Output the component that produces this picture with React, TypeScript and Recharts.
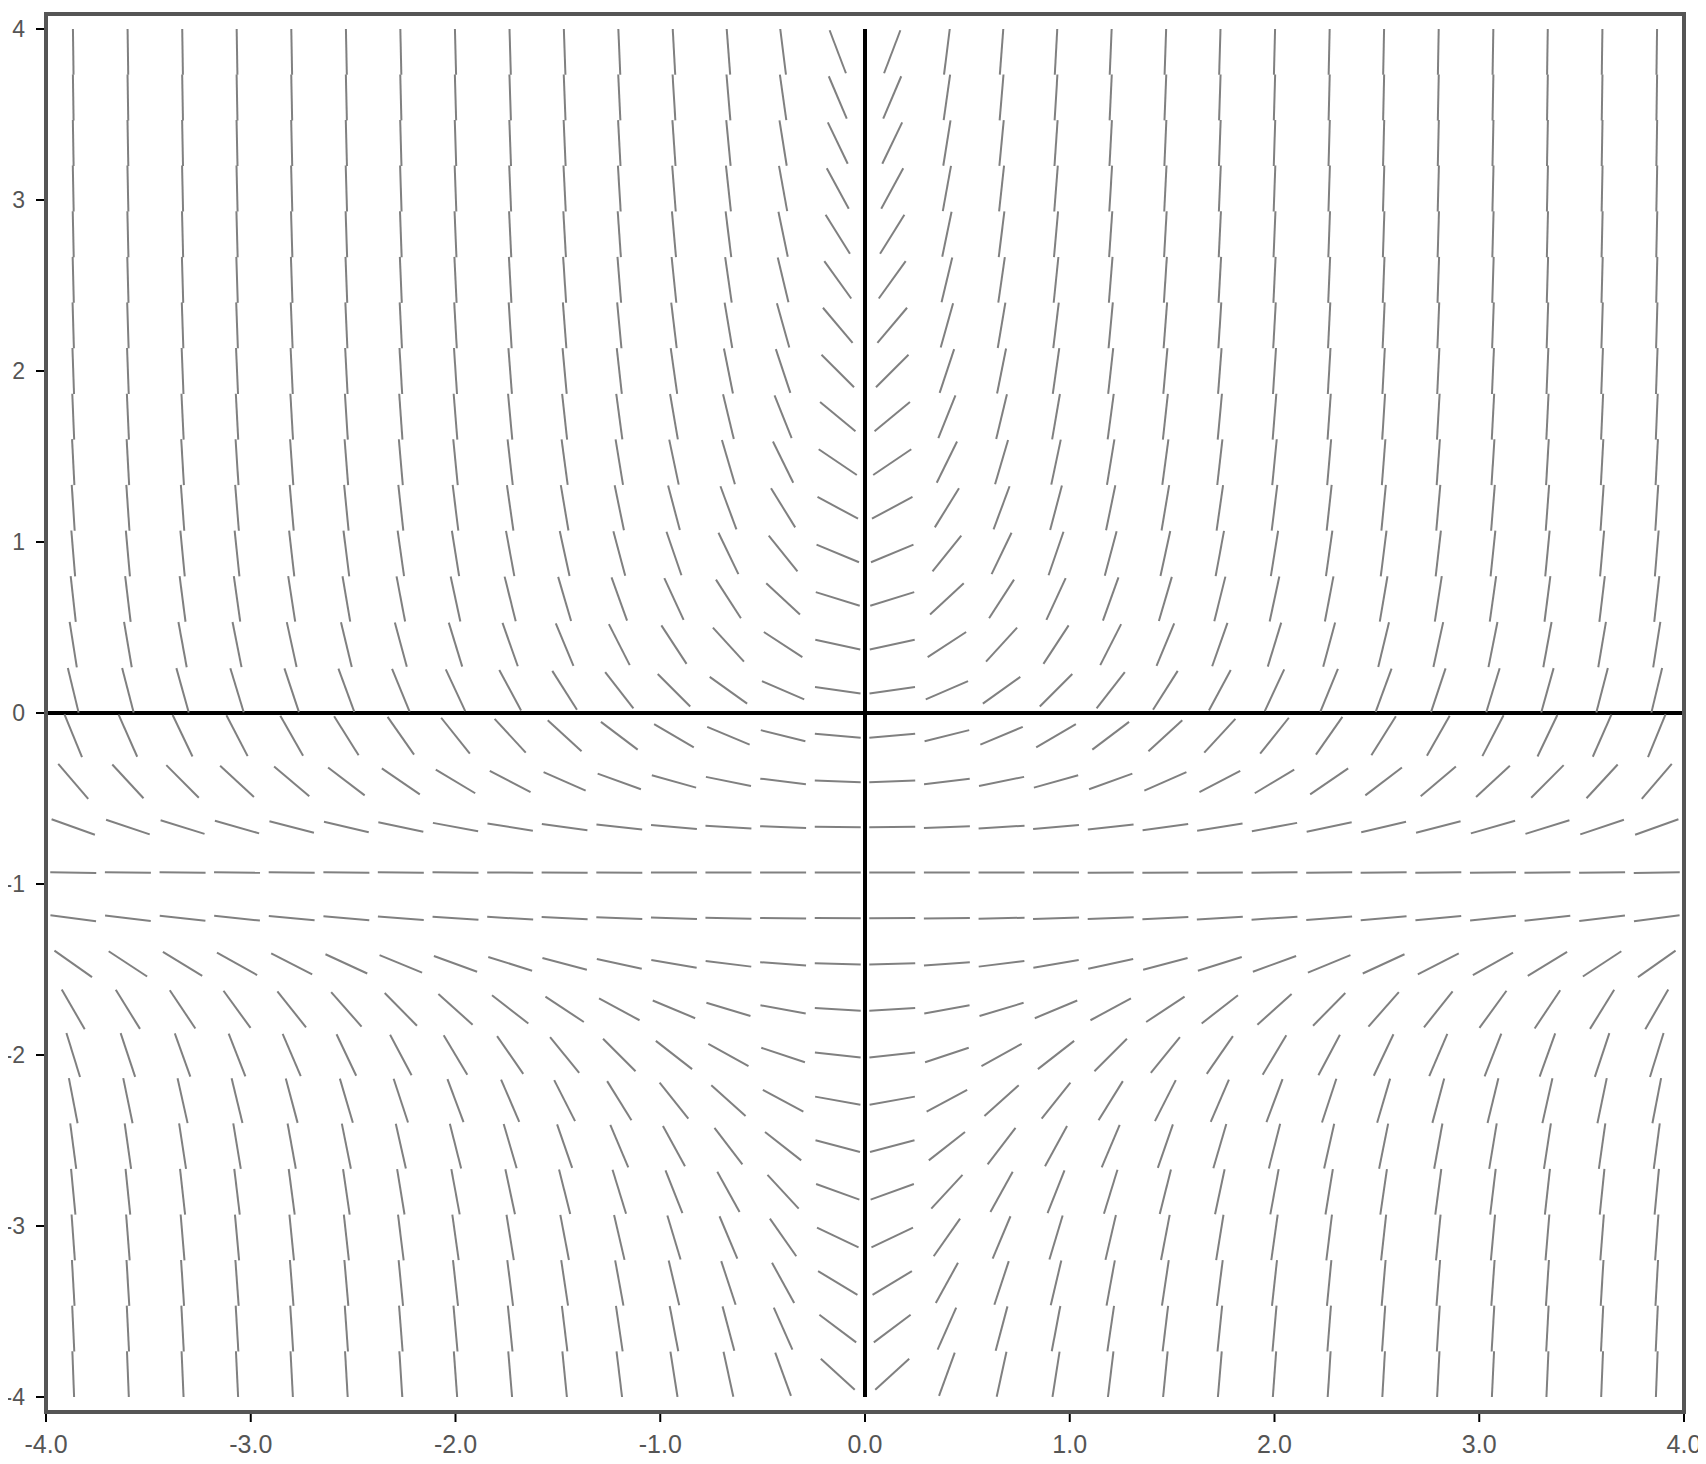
import React from "react";
import {
  ScatterChart,
  Scatter,
  XAxis,
  YAxis,
  ReferenceLine,
} from "recharts";

// Direction field of dy/dx = x * (y + 1)^2, sampled on a 30 x 30 grid
const gridX = [
  -3.867, -3.6, -3.333, -3.067, -2.8, -2.533, -2.267, -2.0, -1.733, -1.467,
  -1.2, -0.933, -0.667, -0.4, -0.133, 0.133, 0.4, 0.667, 0.933, 1.2, 1.467,
  1.733, 2.0, 2.267, 2.533, 2.8, 3.067, 3.333, 3.6, 3.867,
];
const gridY = [
  -3.867, -3.6, -3.333, -3.067, -2.8, -2.533, -2.267, -2.0, -1.733, -1.467,
  -1.2, -0.933, -0.667, -0.4, -0.133, 0.133, 0.4, 0.667, 0.933, 1.2, 1.467,
  1.733, 2.0, 2.267, 2.533, 2.8, 3.067, 3.333, 3.6, 3.867,
];
const xTicks = [-4, -3, -2, -1, 0, 1, 2, 3, 4];
const yTicks = [-4, -3, -2, -1, 0, 1, 2, 3, 4];

// the differential equation that defines the field
const dydx = (x: number, y: number) => x * (y + 1) * (y + 1);

const field = gridX.flatMap((x) =>
  gridY.map((y) => ({ x, y, slope: dydx(x, y) }))
);

const W = 1706;
const H = 1464;
const M = { top: 14, right: 22, left: 8, bottom: 0 };
const YW = 38;
const XH = 52;
const PAD = 15;
const plotW = W - M.left - M.right - YW;
const plotH = H - M.top - M.bottom - XH - 2 * PAD;
const pxPerX = plotW / 8;
const pxPerY = plotH / 8;
const SEG = 46;

const SlopeMark = (props: any) => {
  const { cx, cy, payload } = props;
  if (cx == null || cy == null) return <g />;
  const vx = pxPerX;
  const vy = -payload.slope * pxPerY;
  const n = Math.sqrt(vx * vx + vy * vy);
  const ux = (vx / n) * (SEG / 2);
  const uy = (vy / n) * (SEG / 2);
  return (
    <line
      x1={cx - ux}
      y1={cy - uy}
      x2={cx + ux}
      y2={cy + uy}
      stroke="#808080"
      strokeWidth={2}
    />
  );
};

const FONT = "'Liberation Sans', Arial, sans-serif";

export default function App() {
  return (
    <div
      style={{
        position: "relative",
        width: W,
        height: H,
        margin: "-8px 0 -8px -8px",
        fontFamily: FONT,
      }}
    >
      <ScatterChart width={W} height={H} margin={M}>
        <XAxis
          dataKey="x"
          type="number"
          domain={[-4, 4]}
          ticks={xTicks}
          tickFormatter={(v: number) => v.toFixed(1)}
          height={XH}
          axisLine={false}
          tickLine={{ stroke: "#000", strokeWidth: 2, transform: "translate(0,2)" }}
          tickSize={8}
          tickMargin={15}
          tick={{ fill: "#555", fontSize: 25, fontFamily: FONT }}
          allowDataOverflow
        />
        <YAxis
          dataKey="y"
          type="number"
          domain={[-4, 4]}
          ticks={yTicks}
          width={YW}
          padding={{ top: PAD, bottom: PAD }}
          axisLine={false}
          tickLine={{ stroke: "#000", strokeWidth: 2, transform: "translate(-2,0)" }}
          tickSize={8}
          tickMargin={13}
          tick={{ fill: "#555", fontSize: 23, fontFamily: FONT }}
          allowDataOverflow
        />
        <Scatter data={field} shape={SlopeMark} isAnimationActive={false} />
        <ReferenceLine
          segment={[
            { x: 0, y: -4 },
            { x: 0, y: 4 },
          ]}
          stroke="#000"
          strokeWidth={4}
          ifOverflow="visible"
        />
        <ReferenceLine
          segment={[
            { x: -4, y: 0 },
            { x: 4, y: 0 },
          ]}
          stroke="#000"
          strokeWidth={4}
          ifOverflow="visible"
        />
      </ScatterChart>
      <div
        style={{
          position: "absolute",
          left: M.left + YW - 2,
          top: M.top - 2,
          width: plotW + 4,
          height: H - M.top - M.bottom - XH + 4,
          border: "4px solid #555",
          boxSizing: "border-box",
          pointerEvents: "none",
        }}
      />
    </div>
  );
}
